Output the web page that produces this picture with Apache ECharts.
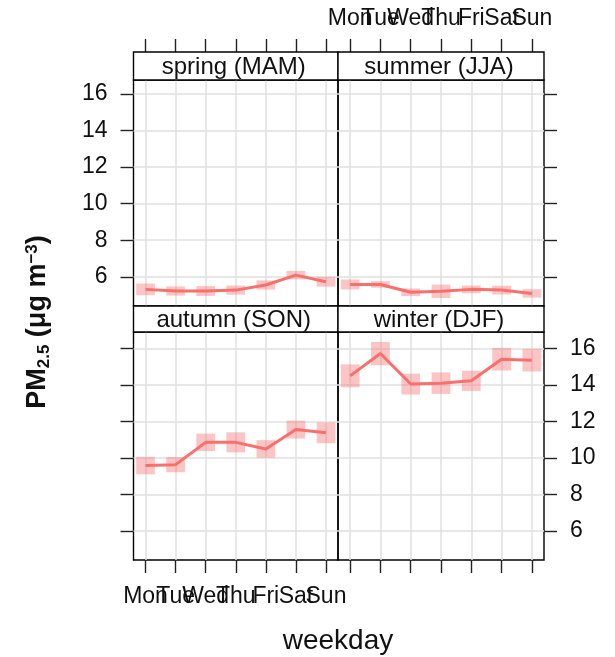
<!DOCTYPE html>
<html>
<head>
<meta charset="utf-8">
<script src="https://cdn.jsdelivr.net/npm/echarts@6/dist/echarts.min.js"></script>
<style>html,body{margin:0;padding:0;background:#fff;}#c{width:615px;height:657px;}</style>
</head>
<body>
<div id="c"></div>
<script>
var days = ['Mon','Tue','Wed','Thu','Fri','Sat','Sun'];
var yTicks = [6, 8, 10, 12, 14, 16];
var panelNames = ['spring (MAM)', 'summer (JJA)', 'autumn (SON)', 'winter (DJF)'];

var springMean = [5.31, 5.22, 5.22, 5.27, 5.55, 6.09, 5.73];
var springLow  = [4.99, 4.97, 4.95, 5.02, 5.30, 5.86, 5.46];
var springHigh = [5.63, 5.47, 5.49, 5.52, 5.80, 6.32, 6.00];

var summerMean = [5.58, 5.58, 5.15, 5.21, 5.31, 5.27, 5.09];
var summerLow  = [5.31, 5.40, 4.94, 4.84, 5.10, 5.03, 4.86];
var summerHigh = [5.85, 5.76, 5.36, 5.57, 5.52, 5.51, 5.32];

var autumnMean = [9.58, 9.63, 10.85, 10.85, 10.49, 11.55, 11.37];
var autumnLow  = [9.10, 9.21, 10.37, 10.30, 10.01, 11.06, 10.80];
var autumnHigh = [10.06, 10.05, 11.33, 11.40, 10.97, 12.04, 11.94];

var winterMean = [14.49, 15.71, 14.04, 14.09, 14.22, 15.40, 15.35];
var winterLow  = [13.86, 15.07, 13.47, 13.50, 13.67, 14.78, 14.73];
var winterHigh = [15.12, 16.35, 14.61, 14.68, 14.77, 16.02, 15.97];

var means = [springMean, summerMean, autumnMean, winterMean];
var lows = [springLow, summerLow, autumnLow, winterLow];
var highs = [springHigh, summerHigh, autumnHigh, winterHigh];

var FONT = 'Liberation Sans';
var LINE = '#F8706C';
var FILL = 'rgba(247,110,110,0.40)';
var GRIDC = '#E0E0E0';

var L1 = 133.5, W1 = 204.5, L2 = 338, W2 = 206;
var T1 = 80, H1 = 226, T2 = 332, H2 = 228;
var STRIP = 27;

var grids = [
  {left: L1, top: T1, width: W1, height: H1},
  {left: L2, top: T1, width: W2, height: H1},
  {left: L1, top: T2, width: W1, height: H2},
  {left: L2, top: T2, width: W2, height: H2}
].map(function (g) {
  return Object.assign({show: true, borderColor: '#000', borderWidth: 1.4, backgroundColor: 'transparent', containLabel: false}, g);
});

var yRange = [[4.4, 16.77], [4.4, 16.77], [4.41, 16.89], [4.41, 16.89]];
var xPos = ['top', 'top', 'bottom', 'bottom'];
var xLabel = [false, true, true, false];
var yPos = ['left', 'right', 'left', 'right'];
var yLabel = [true, false, false, true];
var dayIdx = days.map(function (d, k) { return k + 1; });
var oddIdx = dayIdx.filter(function (v) { return v % 2 === 1; });
var evenIdx = dayIdx.filter(function (v) { return v % 2 === 0; });

var xAxes = [], yAxes = [], series = [];
function dayFmt(v) { return days[Math.round(v) - 1]; }
for (var i = 0; i < 4; i++) {
  xAxes.push({
    type: 'value', gridIndex: i, min: 0.6, max: 7.4, position: xPos[i],
    offset: xPos[i] === 'top' ? STRIP + 1 : 0,
    axisLine: {show: false},
    axisTick: {show: true, length: 13, customValues: dayIdx, lineStyle: {color: '#222', width: 1.4}},
    axisLabel: {show: false},
    splitLine: {show: true, lineStyle: {color: GRIDC, width: 1.5}}
  });
  yAxes.push({
    type: 'value', gridIndex: i, min: yRange[i][0], max: yRange[i][1], position: yPos[i],
    axisLine: {show: false},
    axisTick: {show: true, length: 13, customValues: yTicks, lineStyle: {color: '#222', width: 1.4}},
    axisLabel: {show: yLabel[i], customValues: yTicks, margin: 26, color: '#111', fontFamily: FONT, fontSize: 23,
      hideOverlap: false, showMinLabel: true, showMaxLabel: true},
    splitLine: {show: true, lineStyle: {color: GRIDC, width: 1.5}}
  });
}
// label-only x axes (odd / even days) so that overlapping weekday labels are all drawn
for (var j = 0; j < 4; j++) {
  if (!xLabel[j]) continue;
  [oddIdx, evenIdx].forEach(function (vals) {
    xAxes.push({
      type: 'value', gridIndex: j, min: 0.6, max: 7.4, position: xPos[j],
      offset: xPos[j] === 'top' ? STRIP + 1 : 0,
      axisLine: {show: false}, axisTick: {show: false}, splitLine: {show: false},
      axisLabel: {show: true, customValues: vals, margin: xPos[j] === 'top' ? 22 : 25, color: '#111',
        hideOverlap: false, showMinLabel: true, showMaxLabel: true,
        fontFamily: FONT, fontSize: 23, formatter: dayFmt}
    });
  });
}
for (var i2 = 0; i2 < 4; i2++) {
  (function (idx) {
    var rectData = days.map(function (d, k) { return [k + 1, lows[idx][k], highs[idx][k]]; });
    series.push({
      type: 'custom', xAxisIndex: idx, yAxisIndex: idx, silent: true, z: 2,
      data: rectData,
      renderItem: function (params, api) {
        var x = api.value(0), lo = api.value(1), hi = api.value(2);
        var p1 = api.coord([x - 0.31, hi]);
        var p2 = api.coord([x + 0.31, lo]);
        return {type: 'rect', shape: {x: p1[0], y: p1[1], width: p2[0] - p1[0], height: p2[1] - p1[1]},
          style: {fill: FILL}};
      }
    });
    series.push({
      type: 'line', xAxisIndex: idx, yAxisIndex: idx, z: 3, silent: true,
      data: days.map(function (d, k) { return [k + 1, means[idx][k]]; }),
      symbol: 'none', lineStyle: {color: LINE, width: 3}
    });
  })(i2);
}

var graphics = [];
var stripDefs = [
  [L1, T1 - STRIP - 1, W1, STRIP + 1, 0],
  [L2, T1 - STRIP - 1, W2, STRIP + 1, 1],
  [L1, T2 - STRIP + 1, W1, STRIP - 1, 2],
  [L2, T2 - STRIP + 1, W2, STRIP - 1, 3]
];
stripDefs.forEach(function (s) {
  graphics.push({type: 'rect', shape: {x: s[0], y: s[1], width: s[2], height: s[3]},
    style: {fill: '#fff', stroke: '#000', lineWidth: 1.4}, z: 10});
  graphics.push({type: 'text', x: s[0] + s[2] / 2 - 2, y: s[1] + s[3] / 2 + 1, z: 11,
    style: {text: panelNames[s[4]], fontFamily: FONT, fontSize: 24, fill: '#111', align: 'center', verticalAlign: 'middle'}});
});
graphics.push({type: 'text', x: 338, y: 641, z: 11,
  style: {text: 'weekday', fontFamily: FONT, fontSize: 28, fill: '#111', align: 'center', verticalAlign: 'middle'}});
graphics.push({type: 'text', x: 38, y: 322, rotation: Math.PI / 2, z: 11,
  style: {text: 'PM{sub|2.5} (μg m{sup|−3})', fontFamily: FONT, fontSize: 27, fontWeight: 'bold', fill: '#111',
    align: 'center', verticalAlign: 'middle',
    rich: {
      sub: {fontFamily: FONT, fontSize: 17, fontWeight: 'bold', fill: '#111', verticalAlign: 'bottom', padding: [12, 0, 0, 0]},
      sup: {fontFamily: FONT, fontSize: 17, fontWeight: 'bold', fill: '#111', verticalAlign: 'top', padding: [0, 0, 12, 0]}
    }}});

var chart = echarts.init(document.getElementById('c'), null, {renderer: 'canvas'});
chart.setOption({
  animation: false,
  backgroundColor: '#fff',
  grid: grids,
  xAxis: xAxes,
  yAxis: yAxes,
  series: series,
  graphic: graphics
});
</script>
</body>
</html>
